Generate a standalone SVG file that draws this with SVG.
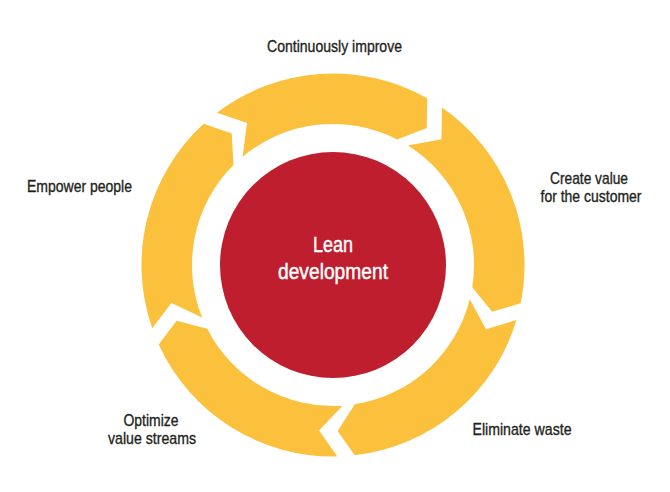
<svg xmlns="http://www.w3.org/2000/svg" xmlns:xlink="http://www.w3.org/1999/xlink" width="670" height="492" viewBox="0 0 670 492">
<style>
.seg{fill:#FBC13D}
.lbl{font-family:"Liberation Sans",Arial,sans-serif;font-size:17px;fill:#231F20;stroke:#231F20;stroke-width:0.35;text-anchor:middle}
.ctr{font-family:"Liberation Sans",Arial,sans-serif;font-size:22.5px;fill:#FFFFFF;stroke:#FFFFFF;stroke-width:0.45;text-anchor:middle}
</style>
<defs>
<path id="seg" d="M 216.95 112.66 A 191.5 191.5 0 0 1 427.29 98.32 L 426.79 128.03 L 397.24 139.48 A 141 141 0 0 0 242.56 156.82 L 247.01 123.0 Z"/>
</defs>
<rect width="670" height="492" fill="#FFFFFF"/>
<g id="connectors">
<g id="seg-continuously-improve"><use xlink:href="#seg" class="seg"/></g>
<g id="seg-create-value"><use xlink:href="#seg" class="seg" transform="rotate(72 333 265)"/></g>
<g id="seg-eliminate-waste"><use xlink:href="#seg" class="seg" transform="rotate(144 333 265)"/></g>
<g id="seg-optimize"><use xlink:href="#seg" class="seg" transform="rotate(216 333 265)"/></g>
<g id="seg-empower"><use xlink:href="#seg" class="seg" transform="rotate(288 333 265)"/></g>
</g>
<g id="center">
<circle cx="333" cy="265" r="113" fill="#BE1E2D"/>
<text class="ctr" x="333" y="252" textLength="40" lengthAdjust="spacingAndGlyphs">Lean</text>
<text class="ctr" x="333" y="279" textLength="110" lengthAdjust="spacingAndGlyphs">development</text>
</g>
<g id="label-continuously-improve"><text class="lbl" x="334.5" y="51.5" textLength="135" lengthAdjust="spacingAndGlyphs">Continuously improve</text></g>
<g id="label-create-value"><text class="lbl" x="589" y="184" textLength="78" lengthAdjust="spacingAndGlyphs">Create value</text><text class="lbl" x="591" y="202" textLength="101" lengthAdjust="spacingAndGlyphs">for the customer</text></g>
<g id="label-eliminate-waste"><text class="lbl" x="522" y="435" textLength="99" lengthAdjust="spacingAndGlyphs">Eliminate waste</text></g>
<g id="label-optimize"><text class="lbl" x="151" y="426" textLength="55" lengthAdjust="spacingAndGlyphs">Optimize</text><text class="lbl" x="152" y="444" textLength="88" lengthAdjust="spacingAndGlyphs">value streams</text></g>
<g id="label-empower"><text class="lbl" x="79.5" y="192.3" textLength="105" lengthAdjust="spacingAndGlyphs">Empower people</text></g>
</svg>
